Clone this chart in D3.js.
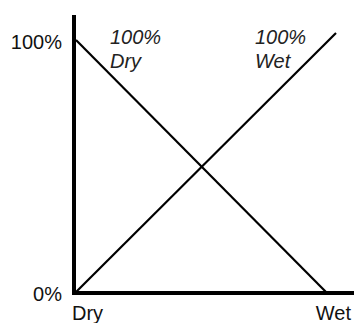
<!DOCTYPE html>
<html>
<head>
<meta charset="utf-8">
<script src="https://cdn.jsdelivr.net/npm/d3@7"></script>
<style>
  html, body { margin: 0; padding: 0; background: #fff; }
  svg { display: block; }
  text { font-family: "Liberation Sans", Arial, Helvetica, sans-serif; fill: #111; }
</style>
</head>
<body>
<svg id="chart" width="354" height="323"></svg>
<script>
// Moisture (percent wet) along x, share of each state along y
const moistureTicks = [0, 100];
const moistureLabels = ["Dry", "Wet"];
const percentTicks = [0, 100];
const percentLabels = ["0%", "100%"];

// Two crossing lines: share that is dry falls, share that is wet rises
const dryMoisture = [0, 100];
const dryShare = [100, 0];
const wetMoisture = [0, 104];
const wetShare = [0, 102.8];

// Italic end labels for each line
const annotationLines = [["100%", "Dry"], ["100%", "Wet"]];

const svg = d3.select("#chart");
const x = d3.scaleLinear().domain([0, 100]).range([76, 326]);
const y = d3.scaleLinear().domain([0, 100]).range([292, 40]);

const line = d3.line().x(d => x(d[0])).y(d => y(d[1]));

const series = [d3.zip(dryMoisture, dryShare), d3.zip(wetMoisture, wetShare)];
svg.selectAll("path.series")
  .data(series)
  .join("path")
  .attr("class", "series")
  .attr("d", line)
  .attr("fill", "none")
  .attr("stroke", "#000")
  .attr("stroke-width", 2.2);

// Axes as heavy bars
svg.append("line")
  .attr("x1", 74).attr("x2", 74)
  .attr("y1", 15).attr("y2", 295)
  .attr("stroke", "#000").attr("stroke-width", 4);
svg.append("line")
  .attr("x1", 72).attr("x2", 354)
  .attr("y1", 293).attr("y2", 293)
  .attr("stroke", "#000").attr("stroke-width", 4);

// Y tick labels
svg.selectAll("text.ylab")
  .data(percentTicks)
  .join("text")
  .attr("class", "ylab")
  .attr("x", 62)
  .attr("y", d => y(d) + 8.5)
  .attr("text-anchor", "end")
  .attr("font-size", 20)
  .text((d, i) => percentLabels[i]);

// X tick labels
svg.selectAll("text.xlab")
  .data(moistureTicks)
  .join("text")
  .attr("class", "xlab")
  .attr("x", (d, i) => i === 0 ? 72 : 351)
  .attr("y", 320)
  .attr("text-anchor", (d, i) => i === 0 ? "start" : "end")
  .attr("font-size", 20)
  .text((d, i) => moistureLabels[i]);

// Italic line labels, placed above the upper ends of the lines
const labelLeft = [110, 255];
annotationLines.forEach((lines, i) => {
  const t = svg.append("text")
    .attr("x", labelLeft[i])
    .attr("y", 44)
    .attr("font-size", 20)
    .attr("font-style", "italic")
    .style("fill", "#222");
  lines.forEach((s, j) => {
    t.append("tspan")
      .attr("x", labelLeft[i])
      .attr("dy", j === 0 ? 0 : 24)
      .text(s);
  });
});
</script>
</body>
</html>
